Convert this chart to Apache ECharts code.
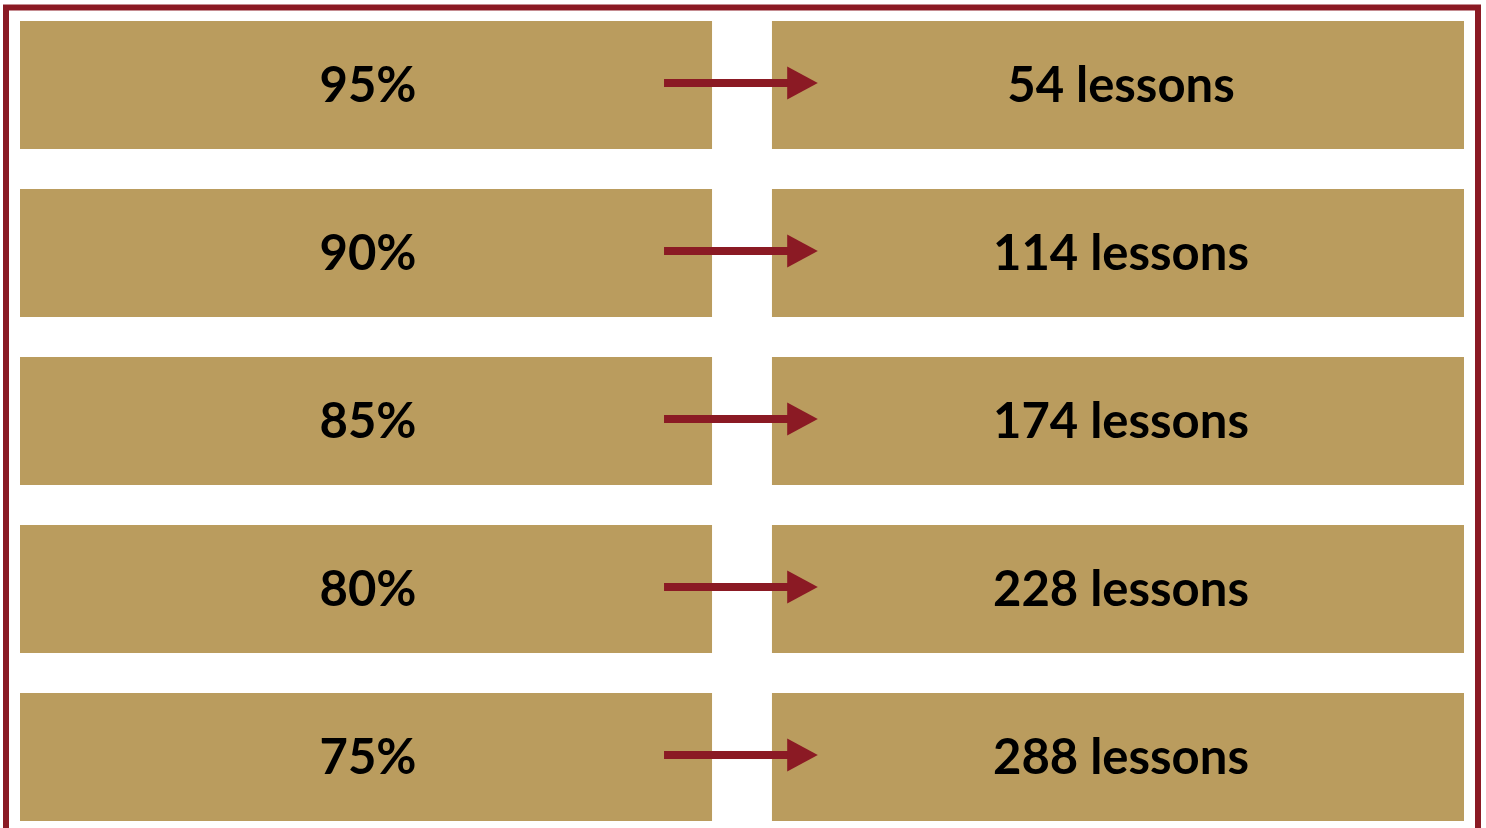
<!DOCTYPE html>
<html>
<head>
<meta charset="utf-8">
<script src="https://cdn.jsdelivr.net/npm/echarts@6/dist/echarts.min.js"></script>
<style>html,body{margin:0;padding:0;background:#fff;}#c{width:1486px;height:828px;}</style>
</head>
<body>
<div id="c"></div>
<script>
const thresholds = ['95%', '90%', '85%', '80%', '75%'];
const lessons = [54, 114, 174, 228, 288];
const lessonUnit = 'lessons';

const GOLD = '#BA9C5E';
const RED = '#8B1A24';

const chart = echarts.init(document.getElementById('c'), null, {renderer: 'canvas'});

const data = thresholds.map((t, i) => [i, lessons[i]]);

function renderItem(params, api) {
  const idx = api.value(0);
  const yc = api.coord([0, idx])[1];
  const band = api.size([0, 1])[1];
  const h = band * 128 / 168;
  const x0 = api.coord([0, idx])[0];
  const unit = api.size([1, 0])[0];
  const leftW = unit * 0.9585;
  const rightX = x0 + unit * 1.0415;
  const rightW = unit * 0.9585;
  const top = yc - h / 2;
  const aStart = x0 + unit * 0.892;
  const aBodyEnd = x0 + unit * 1.064;
  const aTip = x0 + unit * 1.105;
  const ay = yc - 2;
  const fontStyle = {fontFamily: 'Lato', fontWeight: 'bold', fontSize: 49, fill: '#000', align: 'center', verticalAlign: 'middle'};
  return {
    type: 'group',
    children: [
      {type: 'rect', shape: {x: x0, y: top, width: leftW, height: h}, style: {fill: GOLD}},
      {type: 'rect', shape: {x: rightX, y: top, width: rightW, height: h}, style: {fill: GOLD}},
      {type: 'text', style: Object.assign({text: thresholds[idx], x: x0 + leftW / 2 + 2, y: yc + 1}, fontStyle)},
      {type: 'text', style: Object.assign({text: api.value(1) + ' ' + lessonUnit, x: rightX + rightW / 2 + 3, y: yc + 1}, fontStyle)},
      {type: 'rect', shape: {x: aStart, y: ay - 4, width: aBodyEnd - aStart, height: 8}, style: {fill: RED}},
      {type: 'polygon', shape: {points: [[aBodyEnd - 1, ay - 16.5], [aTip, ay], [aBodyEnd - 1, ay + 16.5]]}, style: {fill: RED}}
    ]
  };
}

chart.setOption({
  animation: false,
  backgroundColor: '#fff',
  grid: {left: 20, right: 22, top: 0, bottom: 0},
  xAxis: {type: 'value', min: 0, max: 2, show: false},
  yAxis: {type: 'value', min: -0.506, max: 4.423, inverse: true, show: false},
  graphic: [{
    type: 'rect', silent: true, z: 10,
    shape: {x: 6, y: 7.5, width: 1472, height: 900},
    style: {fill: 'none', stroke: RED, lineWidth: 6}
  }],
  series: [{
    type: 'custom',
    renderItem: renderItem,
    encode: {y: 0},
    data: data
  }]
});
</script>
</body>
</html>
